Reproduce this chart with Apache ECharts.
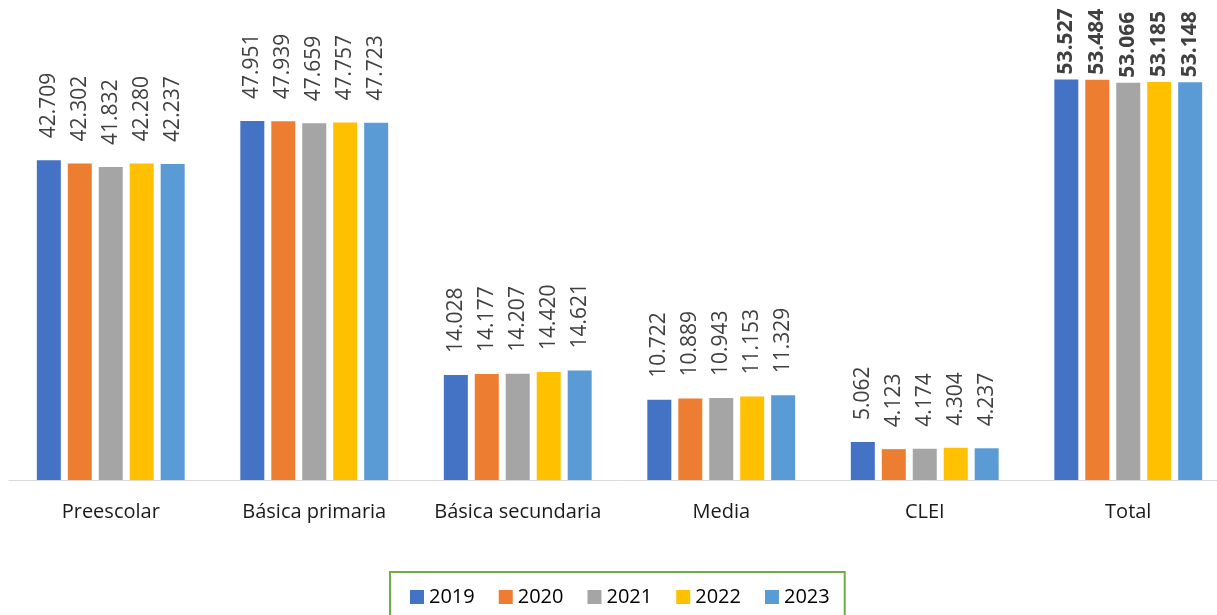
<!DOCTYPE html>
<html>
<head>
<meta charset="utf-8">
<script src="https://cdn.jsdelivr.net/npm/echarts@6/dist/echarts.min.js"></script>
<style>
  html, body { margin: 0; padding: 0; background: #fff; overflow: hidden; }
  #chart { width: 1230px; height: 615px; }
</style>
</head>
<body>
<div id="chart"></div>
<script>
// categorías y valores (matrícula por nivel)
var categorias = ['Preescolar', 'Básica primaria', 'Básica secundaria', 'Media', 'CLEI', 'Total'];
var anios = ['2019', '2020', '2021', '2022', '2023'];
var v2019 = [42709, 47951, 14028, 10722, 5062, 53527];
var v2020 = [42302, 47939, 14177, 10889, 4123, 53484];
var v2021 = [41832, 47659, 14207, 10943, 4174, 53066];
var v2022 = [42280, 47757, 14420, 11153, 4304, 53185];
var v2023 = [42237, 47723, 14621, 11329, 4237, 53148];
var colores = ['#4472c4', '#ed7d31', '#a5a5a5', '#ffc000', '#5b9bd5'];

function fmt(n) {
    var s = String(n);
    return s.slice(0, -3) + '.' + s.slice(-3);
}

var series = [v2019, v2020, v2021, v2022, v2023].map(function (vals, i) {
    return {
        name: anios[i],
        type: 'bar',
        barWidth: 24,
        barGap: '29%',
        itemStyle: { color: colores[i] },
        label: {
            show: true,
            position: 'top',
            rotate: 90,
            align: 'left',
            verticalAlign: 'middle',
            distance: 22,
            color: '#404040',
            fontSize: 21,
            fontFamily: 'Open Sans',
            formatter: function (p) { return fmt(p.value); }
        },
        data: vals.map(function (v, j) {
            if (categorias[j] === 'Total') {
                return { value: v, label: { fontWeight: 'bold', distance: 5 } };
            }
            return v;
        })
    };
});

var chart = echarts.init(document.getElementById('chart'));
chart.setOption({
    animation: false,
    textStyle: { fontFamily: 'Open Sans' },
    grid: { left: 9, right: 0, top: 1, bottom: 135, containLabel: false },
    legend: {
        left: 390,
        top: 572,
        padding: [15, 15, 20, 20],
        borderColor: '#70ad47',
        borderWidth: 2,
        itemWidth: 14,
        itemHeight: 14,
        itemGap: 24,
        icon: 'rect',
        textStyle: { fontSize: 20, color: '#000', fontFamily: 'Open Sans' },
        data: anios
    },
    xAxis: {
        type: 'category',
        data: categorias,
        axisLine: { lineStyle: { color: '#d9d9d9', width: 1 } },
        axisTick: { show: false },
        axisLabel: { interval: 0, color: '#1a1a1a', fontSize: 20, margin: 22, fontFamily: 'Open Sans' }
    },
    yAxis: {
        type: 'value',
        min: 0,
        max: 64000,
        show: false,
        splitLine: { show: false }
    },
    series: series
});
</script>
</body>
</html>
